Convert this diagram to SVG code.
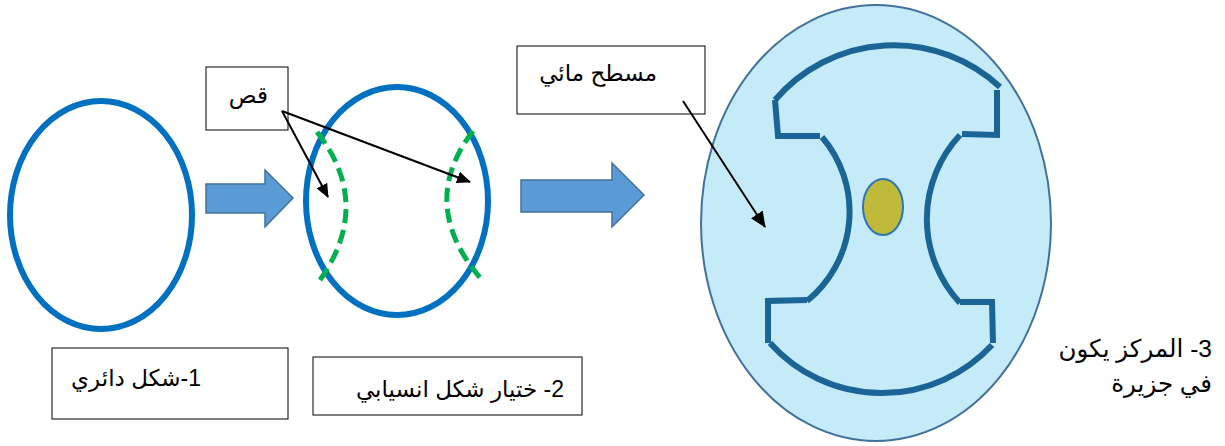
<svg xmlns="http://www.w3.org/2000/svg" width="1225" height="446" viewBox="0 0 1225 446">
<style>
.ring{fill:none;stroke:#0070C0;stroke-width:6}
.box{fill:#fff;stroke:#000;stroke-width:1}
.txt{font-family:"Liberation Sans","DejaVu Sans",sans-serif;font-size:23px;fill:#000}
.big{font-size:24.5px}
.block{fill:#5B9BD5;stroke:#41719C;stroke-width:1.5}
.cut{fill:none;stroke:#00B050;stroke-width:5;stroke-dasharray:14 7}
.wall{fill:none;stroke:#1A6496;stroke-width:6;stroke-linejoin:miter}
.ptr{stroke:#000;stroke-width:2;fill:none}
</style>
<defs>
<marker id="ah" viewBox="0 0 14 12" refX="13" refY="6" markerWidth="14" markerHeight="12" markerUnits="userSpaceOnUse" orient="auto">
<path d="M0,0 L14,6 L0,12 Z" fill="#000"/>
</marker>
<marker id="ahBig" viewBox="0 0 16 14" refX="15" refY="7" markerWidth="16" markerHeight="14" markerUnits="userSpaceOnUse" orient="auto">
<path d="M0,0 L16,7 L0,14 Z" fill="#000"/>
</marker>
</defs>
<rect width="1225" height="446" fill="#fff"/>

<g id="shape1">
<ellipse class="ring" cx="101" cy="215" rx="91" ry="114"/>
</g>

<g id="shape2">
<ellipse class="ring" cx="397" cy="201" rx="91" ry="114"/>
<path class="cut" d="M317,132 Q373.5,204 320,280"/>
<path class="cut" d="M473,131 Q416.5,204.5 482,280"/>
</g>

<g id="island">
<ellipse cx="876" cy="223" rx="175" ry="218" fill="#C5EBF9" stroke="#41719C" stroke-width="2"/>
<path class="wall" d="M775,100 A156,156 0 0 1 1000,87"/>
<path class="wall" d="M997,90 L997,135 L962,134"/>
<path class="wall" d="M960,135 A123,123 0 0 0 960,303"/>
<path class="wall" d="M960,302 L992,302 L993,343"/>
<path class="wall" d="M992,345 A150,150 0 0 1 770,343"/>
<path class="wall" d="M768,343 L768,301 L807,300"/>
<path class="wall" d="M807,301 A115,115 0 0 0 822,137"/>
<path class="wall" d="M820,136 L778,136 L775,100"/>
<ellipse cx="883" cy="207" rx="20" ry="28" fill="#C0BA3A" stroke="#2E75B6" stroke-width="2"/>
</g>

<g id="label-cut">
<rect class="box" x="206" y="67" width="82" height="63"/>
<text class="txt" x="268" y="103" direction="rtl" text-anchor="start">قص</text>
</g>

<g id="label-water">
<rect class="box" x="517" y="46" width="188" height="68"/>
<text class="txt" x="657" y="81" direction="rtl" text-anchor="start">مسطح مائي</text>
</g>

<g id="label1">
<rect class="box" x="52" y="348" width="236" height="71"/>
<text class="txt" x="201" y="386" direction="rtl" text-anchor="start">1-شكل دائري</text>
</g>

<g id="label2">
<rect class="box" x="313" y="357" width="269" height="58"/>
<text class="txt" x="564" y="397" direction="rtl" text-anchor="start">2- ختيار شكل انسيابي</text>
</g>

<g id="label3">
<text class="txt big" x="1212" y="357" direction="rtl" text-anchor="start">3- المركز يكون</text>
<text class="txt big" x="1212" y="392" direction="rtl" text-anchor="start">في جزيرة</text>
</g>

<g id="connectors">
<path class="block" d="M206,184 L265,184 L265,170 L293,198 L265,227 L265,213 L206,213 Z"/>
<path class="block" d="M521,180 L612,180 L612,163 L644,195 L612,227 L612,212 L521,212 Z"/>
<line class="ptr" x1="282" y1="111" x2="328" y2="197" marker-end="url(#ah)"/>
<line class="ptr" x1="282" y1="111" x2="470" y2="182" marker-end="url(#ah)"/>
<line class="ptr" x1="683" y1="101" x2="765" y2="227" stroke-width="3" marker-end="url(#ahBig)"/>
</g>
</svg>
